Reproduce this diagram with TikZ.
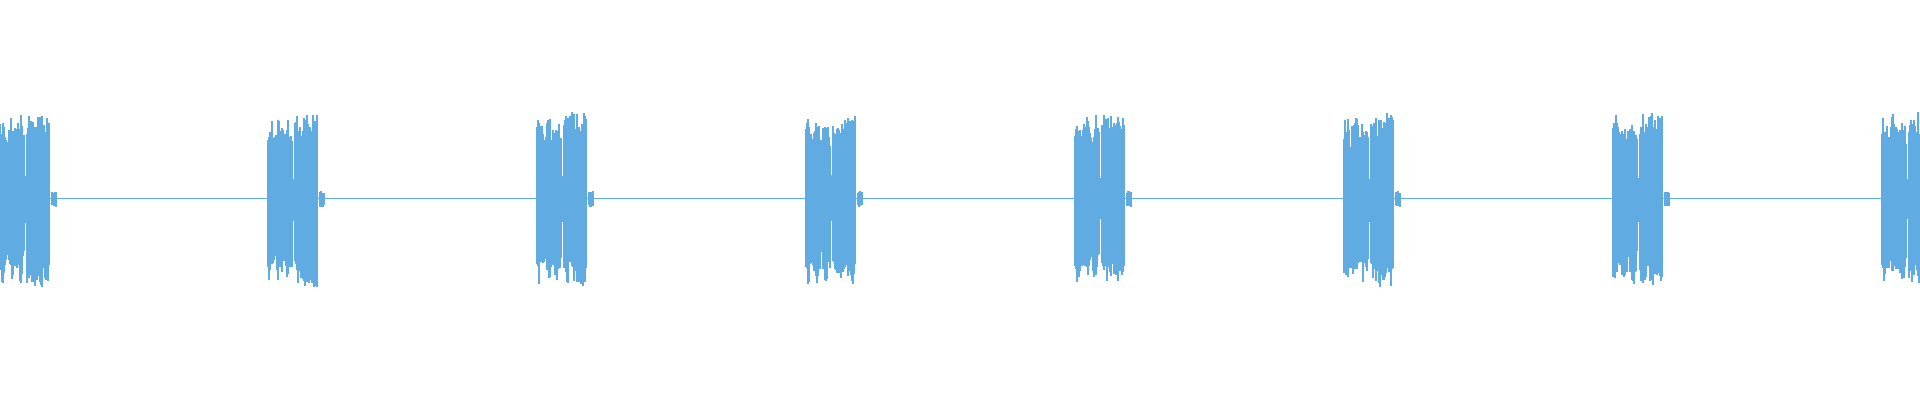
\documentclass[tikz,border=0pt]{standalone}
\definecolor{wave}{RGB}{96,172,226}
\begin{document}
\begin{tikzpicture}[x=0.5pt,y=-0.5pt,col/.style={draw=wave,line width=0.65pt}]
\useasboundingbox (0,0) rectangle (1920,400);
\pgfmathsetseed{7}
\draw[wave,line width=0.5pt] (0,199) -- (1920,199);
\foreach \s in {0,268,537,806,1075,1344,1613,1882}{
  \foreach \i in {0,...,56}{
    \pgfmathsetmacro{\env}{\i<25 ? 78+8*sin(\i*40) : (\i<27 ? 24 : (\i<34 ? 85 : (\i<35 ? 14 : (\i<50 ? 88 : (\i<52 ? 0 : 8)))))}
    \pgfmathsetmacro{\a}{\env*(0.72+0.28*rnd)}
    \pgfmathsetmacro{\b}{\env*(0.72+0.28*rnd)}
    \pgfmathsetmacro{\x}{\s+\i}
    \ifdim\x pt<1920pt
    \draw[col] (\x,199-\a) -- (\x,199+\b);
    \fi
  }
}
\end{tikzpicture}
\end{document}
